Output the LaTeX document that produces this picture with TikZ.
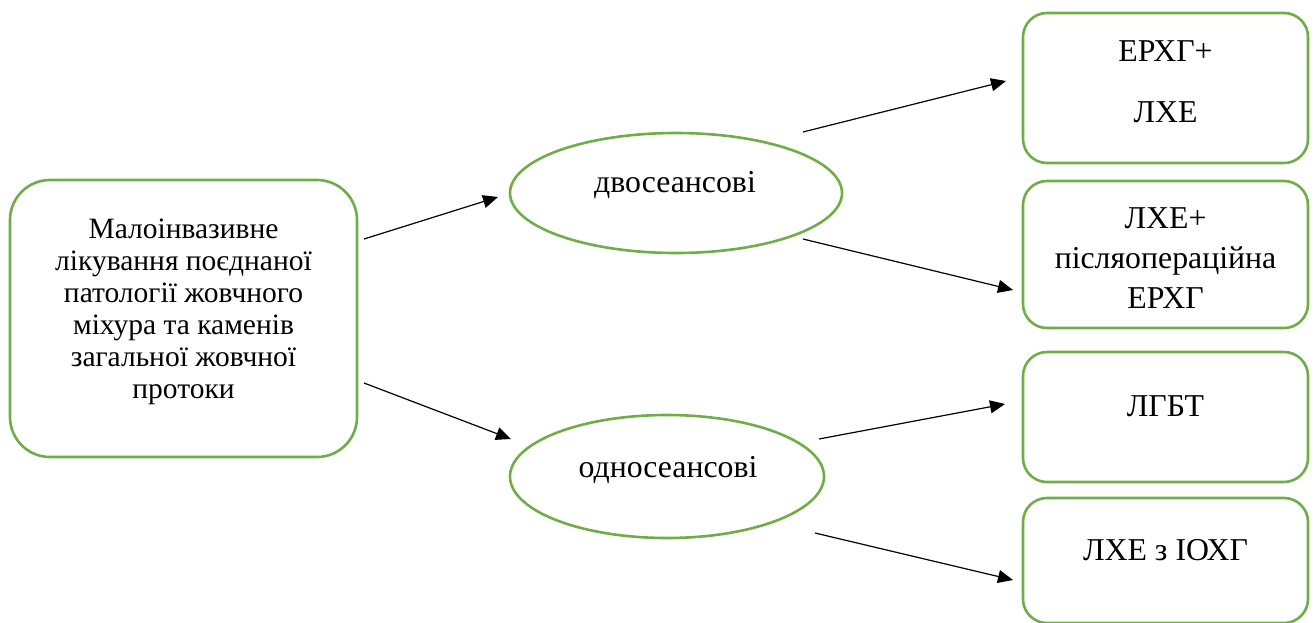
\documentclass[tikz,border=0pt]{standalone}
\usepackage{fontspec}
\setmainfont{Liberation Serif}
\usetikzlibrary{arrows.meta,shapes.geometric}
\definecolor{grn}{HTML}{70AD47}
\begin{document}
\begin{tikzpicture}[x=1pt,y=-1pt,
  rbox/.style={draw=grn, line width=2.6pt, rounded corners=#1, inner sep=0pt, minimum width=285pt},
  ell/.style={draw=grn, line width=2.6pt, ellipse, inner sep=0pt},
  txt/.style={font=\fontsize{31.8}{36}\selectfont, align=center, inner sep=0pt},
  arr/.style={-{Triangle[length=15pt,width=13pt]}, line width=1.2pt}]
\useasboundingbox (0,0) rectangle (1316,622);
% shapes
\node[rbox=40pt, minimum width=347pt, minimum height=277pt] (left) at (183.5,318.5) {};
\node[ell, minimum width=332pt, minimum height=120pt] (e1) at (676,193) {};
\node[ell, minimum width=314pt, minimum height=123pt] (e2) at (667,476.5) {};
\node[rbox=24pt, minimum height=150pt] (b1) at (1165.5,88) {};
\node[rbox=24pt, minimum height=147pt] (b2) at (1165.5,254.5) {};
\node[rbox=24pt, minimum height=130pt] (b3) at (1165.5,417) {};
\node[rbox=24pt, minimum height=125pt] (b4) at (1165.5,560.5) {};
% texts (base anchor = baseline of the last line)
\node[txt, font=\fontsize{29.5}{32}\selectfont, anchor=base] (tl) at (183.5,398) {Малоінвазивне\\лікування поєднаної\\патології жовчного\\міхура та каменів\\загальної жовчної\\протоки};
\node[txt, anchor=base] (te1) at (675,192) {двосеансові};
\node[txt, anchor=base] (te2) at (668,477) {односеансові};
\node[txt, font=\fontsize{31.8}{61}\selectfont, anchor=base] (t1) at (1165.5,122) {ЕРХГ+\\ЛХЕ};
\node[txt, font=\fontsize{31.8}{40}\selectfont, anchor=base] (t2) at (1165.5,308) {ЛХЕ+\\післяопераційна\\ЕРХГ};
\node[txt, anchor=base] (t3) at (1165.5,416) {ЛГБТ};
\node[txt, anchor=base] (t4) at (1165.5,560) {ЛХЕ з ІОХГ};
% connector ends
\coordinate (s1) at (364,239); \coordinate (d1) at (498,197);
\coordinate (s2) at (364,383); \coordinate (d2) at (511,439);
\coordinate (s3) at (803,132); \coordinate (d3) at (1006,81);
\coordinate (s4) at (803,239); \coordinate (d4) at (1013,290);
\coordinate (s5) at (819,439); \coordinate (d5) at (1005,404);
\coordinate (s6) at (815,533); \coordinate (d6) at (1013,580);
\draw[arr] (s1) -- (d1);
\draw[arr] (s2) -- (d2);
\draw[arr] (s3) -- (d3);
\draw[arr] (s4) -- (d4);
\draw[arr] (s5) -- (d5);
\draw[arr] (s6) -- (d6);
\end{tikzpicture}
\end{document}
